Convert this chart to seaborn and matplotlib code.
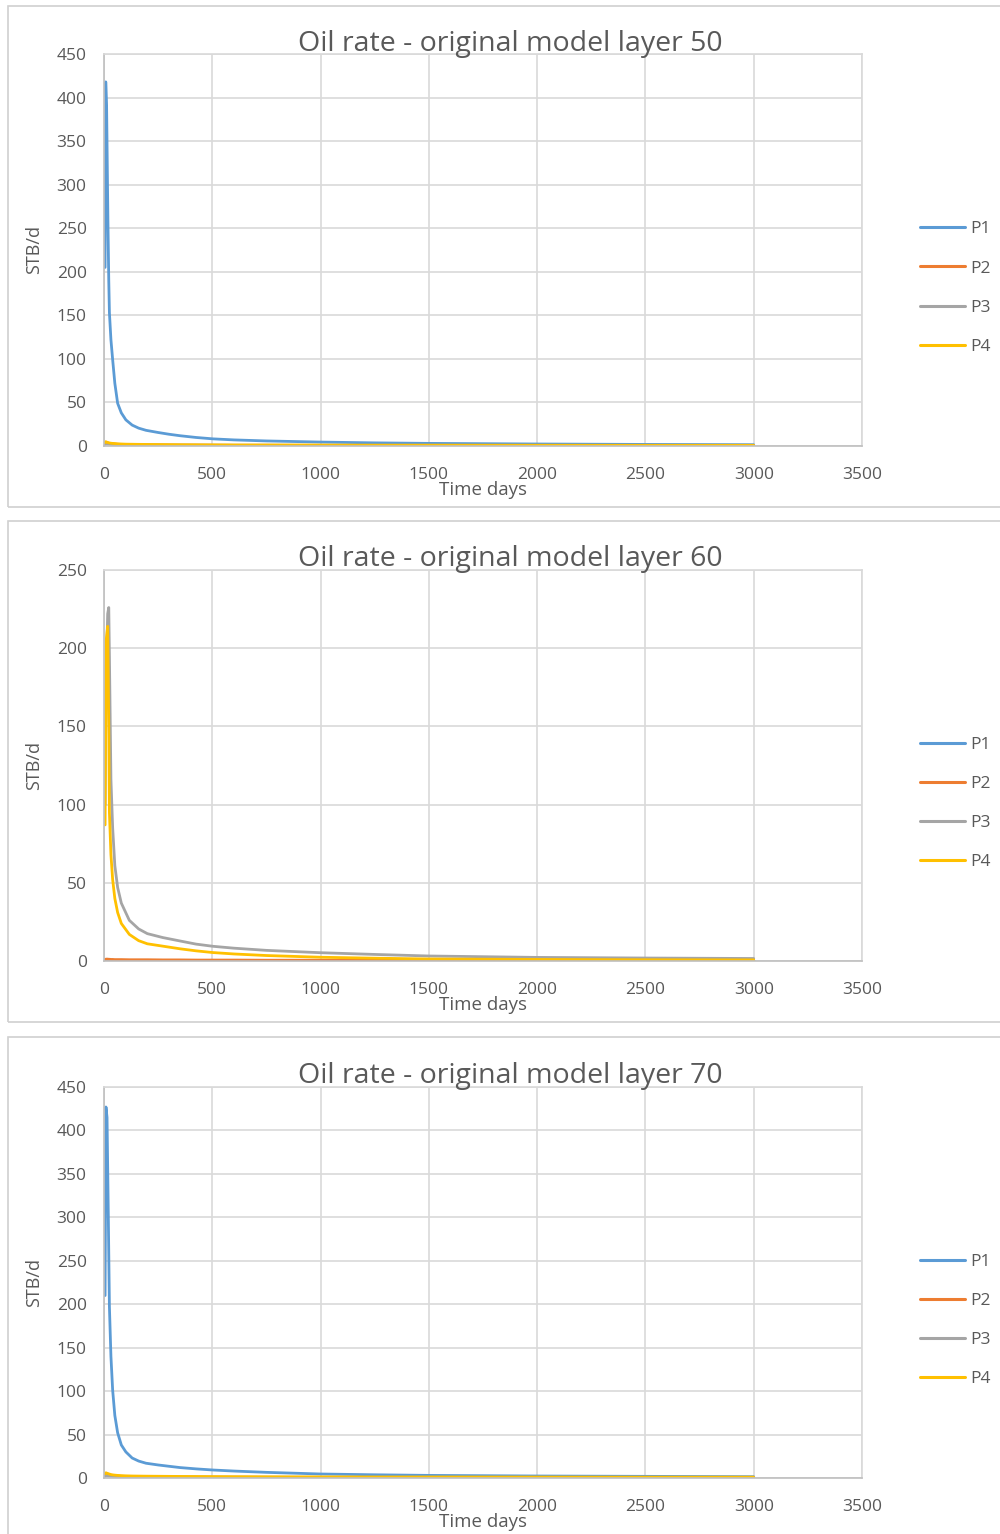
import numpy as np
import pandas as pd
import matplotlib
matplotlib.use("Agg")
import matplotlib.pyplot as plt
from matplotlib.patches import Rectangle
from matplotlib.lines import Line2D
import seaborn as sns

# ---------------- data ----------------
series_names = ["P1", "P2", "P3", "P4"]
series_colors = ["#5B9BD5", "#ED7D31", "#A5A5A5", "#FFC000"]

# layer 50
days_50 = [5, 8, 12, 18, 22, 25, 32, 40, 50, 63, 80, 101, 130, 160, 194, 250, 300,
           351, 425, 503, 600, 750, 1000, 1250, 1500, 2000, 2500, 3000]
l50_p1 = [205, 418, 390, 260, 190, 153, 122, 99, 72, 49, 38, 30, 24, 20.5, 18, 15.5, 13.5,
          11.8, 9.8, 8.2, 7, 5.8, 4.5, 3.6, 3, 2.3, 1.8, 1.5]
l50_p2 = [3, 4, 3.8, 3.5, 3.2, 3, 2.8, 2.5, 2.3, 2, 1.8, 1.6, 1.5, 1.4, 1.3, 1.2, 1.1,
          1, 1, 0.9, 0.8, 0.8, 0.7, 0.6, 0.6, 0.5, 0.4, 0.4]
l50_p3 = [2, 3, 2.8, 2.6, 2.4, 2.2, 2, 1.9, 1.8, 1.7, 1.6, 1.5, 1.4, 1.3, 1.2, 1.1, 1,
          1, 0.9, 0.9, 0.8, 0.8, 0.7, 0.7, 0.6, 0.6, 0.5, 0.5]
l50_p4 = [4, 5, 4.5, 4, 3.7, 3.5, 3.2, 3, 2.8, 2.5, 2.3, 2.1, 2, 1.9, 1.8, 1.7, 1.6,
          1.5, 1.4, 1.3, 1.2, 1.2, 1.1, 1, 1, 0.9, 0.8, 0.8]

# layer 60
days_60 = [5, 10, 17, 22, 25, 32, 40, 50, 63, 80, 117, 160, 200, 271, 351, 425, 503,
           600, 750, 1000, 1250, 1500, 2000, 2500, 3000]
l60_p1 = [0, 0, 0, 0, 0, 0, 0, 0, 0, 0, 0, 0, 0, 0, 0, 0, 0,
          0, 0, 0, 0, 0, 0, 0, 0]
l60_p2 = [1, 1.2, 1.2, 1.1, 1.1, 1, 1, 0.9, 0.9, 0.9, 0.8, 0.8, 0.8, 0.7, 0.7, 0.6, 0.6,
          0.6, 0.5, 0.5, 0.4, 0.4, 0.3, 0.3, 0.3]
l60_p3 = [100, 185, 222, 226, 195, 116, 85, 61, 47, 37, 26, 20.5, 17.5, 15, 12.8, 10.8, 9.4,
          8.2, 6.8, 5.3, 4.2, 3.2, 2.3, 1.9, 1.6]
l60_p4 = [87, 205, 214, 150, 95, 68, 52, 40, 31, 24, 17, 13, 11, 9.5, 7.8, 6.5, 5.4,
          4.5, 3.5, 2.4, 1.8, 1.3, 1, 0.8, 0.7]

# layer 70
days_70 = [5, 9, 14, 20, 25, 32, 40, 50, 63, 80, 101, 130, 160, 194, 250, 300, 351,
           425, 503, 600, 750, 1000, 1250, 1500, 2000, 2500, 3000]
l70_p1 = [210, 427, 415, 300, 197, 140, 101, 72, 52, 38, 30, 23, 19.5, 17, 15, 13.5, 12,
          10.5, 9.2, 8, 6.5, 4.6, 3.7, 3, 2.3, 1.9, 1.5]
l70_p2 = [3, 4, 3.8, 3.5, 3.2, 3, 2.8, 2.5, 2.3, 2, 1.8, 1.6, 1.5, 1.4, 1.3, 1.2, 1.1,
          1, 1, 0.9, 0.8, 0.7, 0.6, 0.6, 0.5, 0.4, 0.4]
l70_p3 = [2, 3, 2.8, 2.6, 2.4, 2.2, 2, 1.9, 1.8, 1.7, 1.6, 1.5, 1.4, 1.3, 1.2, 1.1, 1,
          1, 0.9, 0.9, 0.8, 0.7, 0.7, 0.6, 0.6, 0.5, 0.5]
l70_p4 = [5, 6, 5.5, 5, 4.5, 4, 3.6, 3.3, 3, 2.7, 2.5, 2.3, 2.2, 2.1, 2, 1.9, 1.8,
          1.7, 1.6, 1.5, 1.4, 1.3, 1.2, 1.2, 1.1, 1, 1]

titles = ["Oil rate - original model layer 50",
          "Oil rate - original model layer 60",
          "Oil rate - original model layer 70"]
y_maxes = [450, 250, 450]
y_step = 50
x_ticks = [0, 500, 1000, 1500, 2000, 2500, 3000, 3500]
x_label = "Time days"
y_label = "STB/d"

layers = [
    (days_50, [l50_p1, l50_p2, l50_p3, l50_p4]),
    (days_60, [l60_p1, l60_p2, l60_p3, l60_p4]),
    (days_70, [l70_p1, l70_p2, l70_p3, l70_p4]),
]

# ---------------- style ----------------
sns.set_theme(style="white")
plt.rcParams["font.family"] = ["Open Sans", "DejaVu Sans"]
text_color = "#595959"
grid_color = "#D9D9D9"

W, H = 1000, 1534
fig = plt.figure(figsize=(W / 100, H / 100), dpi=100)

axes_px = [(54, 446), (570, 961), (1087, 1478)]  # (top, bottom) of plot area
boxes_px = [(6, 507), (521, 1022), (1037, 1545)]
title_px = [44, 559, 1076]
x_left_px, x_right_px = 104, 862
aw = x_right_px - x_left_px

for i in range(3):
    bt, bb = boxes_px[i]
    fig.patches.append(Rectangle((8 / W, 1 - bb / H), 1.2, (bb - bt) / H,
                                 transform=fig.transFigure, fill=False,
                                 edgecolor="#D0D0D0", linewidth=1.2, zorder=0))

    top, bot = axes_px[i]
    ah = bot - top
    ax = fig.add_axes([x_left_px / W, 1 - bot / H, aw / W, ah / H])

    days, vals_list = layers[i]
    frames = [pd.DataFrame({"day": days, "rate": v, "series": n})
              for n, v in zip(series_names, vals_list)]
    df = pd.concat(frames, ignore_index=True)

    sns.lineplot(data=df, x="day", y="rate", hue="series",
                 hue_order=series_names, palette=series_colors,
                 linewidth=2.0, ax=ax, legend=False, sort=False,
                 solid_joinstyle="round", solid_capstyle="round")

    ax.set_xlim(0, 3500)
    ax.set_ylim(0, y_maxes[i])
    ax.set_xticks(x_ticks)
    ax.set_yticks(np.arange(0, y_maxes[i] + 1, y_step))
    ax.grid(True, color=grid_color, linewidth=1.2)
    ax.set_axisbelow(True)
    for s in ax.spines.values():
        s.set_color(grid_color)
        s.set_linewidth(1.2)
    ax.spines["left"].set_color("#BFBFBF")
    ax.spines["bottom"].set_color("#BFBFBF")
    ax.tick_params(axis="both", length=0, labelsize=12.5, colors=text_color)
    ax.tick_params(axis="x", pad=15)
    ax.tick_params(axis="y", pad=12.5)

    ax.set_xlabel(x_label, fontsize=13.5, color=text_color)
    ax.xaxis.set_label_coords(0.5, -35 / ah)
    ax.set_ylabel(y_label, fontsize=13, color=text_color)
    ax.yaxis.set_label_coords(-(x_left_px - 43) / aw, 0.5)

    fig.text(510 / W, 1 - title_px[i] / H, titles[i], ha="center", va="center",
             fontsize=20.5, color=text_color)

    handles = [Line2D([0], [0], color=c, linewidth=2.2) for c in series_colors]
    leg = ax.legend(handles, series_names, loc="center left",
                    bbox_to_anchor=((913 - x_left_px) / aw, (ah / 2 - 38) / ah),
                    frameon=False, handlelength=2.6, handletextpad=0.3,
                    labelspacing=1.32, fontsize=12.5, borderaxespad=0)
    for t in leg.get_texts():
        t.set_color(text_color)

fig.savefig("out.png", dpi=100, facecolor="white")
